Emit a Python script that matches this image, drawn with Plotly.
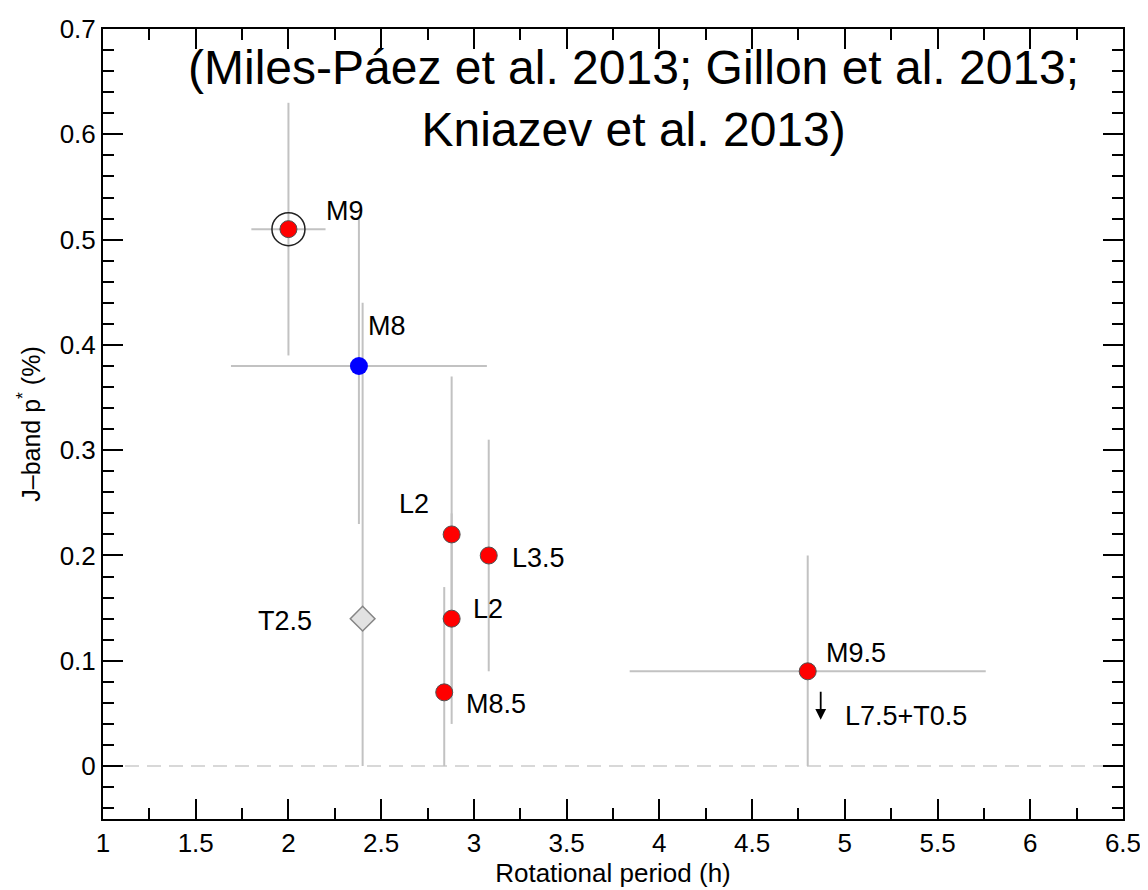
import plotly.graph_objects as go

# J-band linear polarization vs rotational period for ultracool dwarfs
labels = ['M9', 'M8', 'L2', 'L3.5', 'L2', 'T2.5', 'M8.5', 'M9.5']
period = [2.00, 2.38, 2.88, 3.08, 2.88, 2.40, 2.84, 4.80]
period_err = [0.20, 0.69, 0.0, 0.0, 0.0, 0.0, 0.0, 0.96]
pol = [0.51, 0.38, 0.22, 0.20, 0.14, 0.14, 0.07, 0.09]
pol_err_plus = [0.12, 0.14, 0.15, 0.11, 0.10, 0.30, 0.10, 0.11]
pol_err_minus = [0.12, 0.15, 0.15, 0.11, 0.10, 0.14, 0.07, 0.09]
kind = ['red', 'blue', 'red', 'red', 'red', 'diamond', 'red', 'red']

# upper limit for the L7.5+T0.5 binary
limit_label = 'L7.5+T0.5'
limit_period = 4.87
limit_top = 0.072
limit_bottom = 0.044

# label placement: (dx, dy, anchor)
label_offsets = [(0.19, 0.017, 'left'), (0.04, 0.038, 'left'), (-0.11, 0.029, 'right'),
                 (0.115, -0.002, 'left'), (0.105, 0.009, 'left'), (-0.26, -0.002, 'right'),
                 (0.107, -0.011, 'left'), (0.09, 0.017, 'left')]

FONT = 'Liberation Sans, Arial, sans-serif'
ERR_COLOR = '#c2c2c2'

fig = go.Figure()

# zero reference line
fig.add_shape(type='line', xref='paper', yref='y', x0=0, x1=1, y0=0, y1=0,
              line=dict(color='#cccccc', width=1.5, dash='14px,8px'), layer='below')


def add_group(sel, marker):
    fig.add_trace(go.Scatter(
        x=[period[i] for i in sel],
        y=[pol[i] for i in sel],
        mode='markers',
        marker=marker,
        error_x=dict(type='data', array=[period_err[i] for i in sel], color=ERR_COLOR,
                     thickness=2, width=0),
        error_y=dict(type='data', symmetric=False,
                     array=[pol_err_plus[i] for i in sel],
                     arrayminus=[pol_err_minus[i] for i in sel],
                     color=ERR_COLOR, thickness=2, width=0),
        showlegend=False,
        hoverinfo='skip'
    ))


add_group([i for i, k in enumerate(kind) if k == 'diamond'],
          dict(symbol='diamond', size=19, color='#e2e2e2', line=dict(color='#858585', width=1.5)))
add_group([i for i, k in enumerate(kind) if k == 'blue'],
          dict(symbol='circle', size=18, color='#0000ff', line=dict(color='#0000ff', width=0)))
add_group([i for i, k in enumerate(kind) if k == 'red'],
          dict(symbol='circle', size=17, color='#ff0000', line=dict(color='#505050', width=1)))

# ring around the M9 object
fig.add_trace(go.Scatter(
    x=[period[0]], y=[pol[0]], mode='markers',
    marker=dict(symbol='circle-open', size=33, color='#222222', line=dict(width=1.5)),
    showlegend=False, hoverinfo='skip'
))

for i, lab in enumerate(labels):
    dx, dy, anchor = label_offsets[i]
    fig.add_annotation(x=period[i] + dx, y=pol[i] + dy, text=lab, showarrow=False,
                       xanchor=anchor, yanchor='middle',
                       font=dict(family=FONT, size=27, color='black'))

# upper-limit arrow
fig.add_annotation(x=limit_period, y=limit_bottom, ax=limit_period, ay=limit_top,
                   xref='x', yref='y', axref='x', ayref='y', text='',
                   showarrow=True, arrowhead=2, arrowsize=1.2, arrowwidth=1.8, arrowcolor='black')
fig.add_annotation(x=4.99, y=0.048, text=limit_label, showarrow=False, xanchor='left',
                   yanchor='middle', font=dict(family=FONT, size=27, color='black'))

# references
fig.add_annotation(x=3.86, y=0.634, text='(Miles-Páez et al. 2013; Gillon et al. 2013;<br>Kniazev et al. 2013)',
                   showarrow=False, xanchor='center', yanchor='middle', align='center',
                   font=dict(family=FONT, size=48, color='black'))

axis_style = dict(showline=True, linecolor='black', linewidth=2, mirror='ticks',
                  ticks='inside', ticklen=20, tickwidth=2, tickcolor='black',
                  showgrid=False, zeroline=False, ticklabeloverflow='allow',
                  tickfont=dict(family=FONT, size=26, color='black'))

fig.update_xaxes(range=[1, 6.5001], dtick=0.5, tick0=1,
                 minor=dict(ticks='inside', ticklen=11, tickwidth=2, tickcolor='black', dtick=0.25),
                 title=dict(text='Rotational period (h)', font=dict(family=FONT, size=26, color='black'),
                            standoff=2),
                 **axis_style)
fig.update_yaxes(range=[-0.0503, 0.7001], dtick=0.1, tick0=0,
                 minor=dict(ticks='inside', ticklen=11, tickwidth=2, tickcolor='black', dtick=0.02),
                 title=dict(text='J–band p<sup>*</sup> (%)', font=dict(family=FONT, size=25, color='black'),
                            standoff=12),
                 **axis_style)

# page body adds an 8px offset, so the figure is sized to fit the 1148x890 window
fig.update_layout(
    width=1140, height=882,
    margin=dict(l=95, r=25, t=6, b=71),
    plot_bgcolor='white', paper_bgcolor='white',
    font=dict(family=FONT)
)

fig.write_html('out.html')
